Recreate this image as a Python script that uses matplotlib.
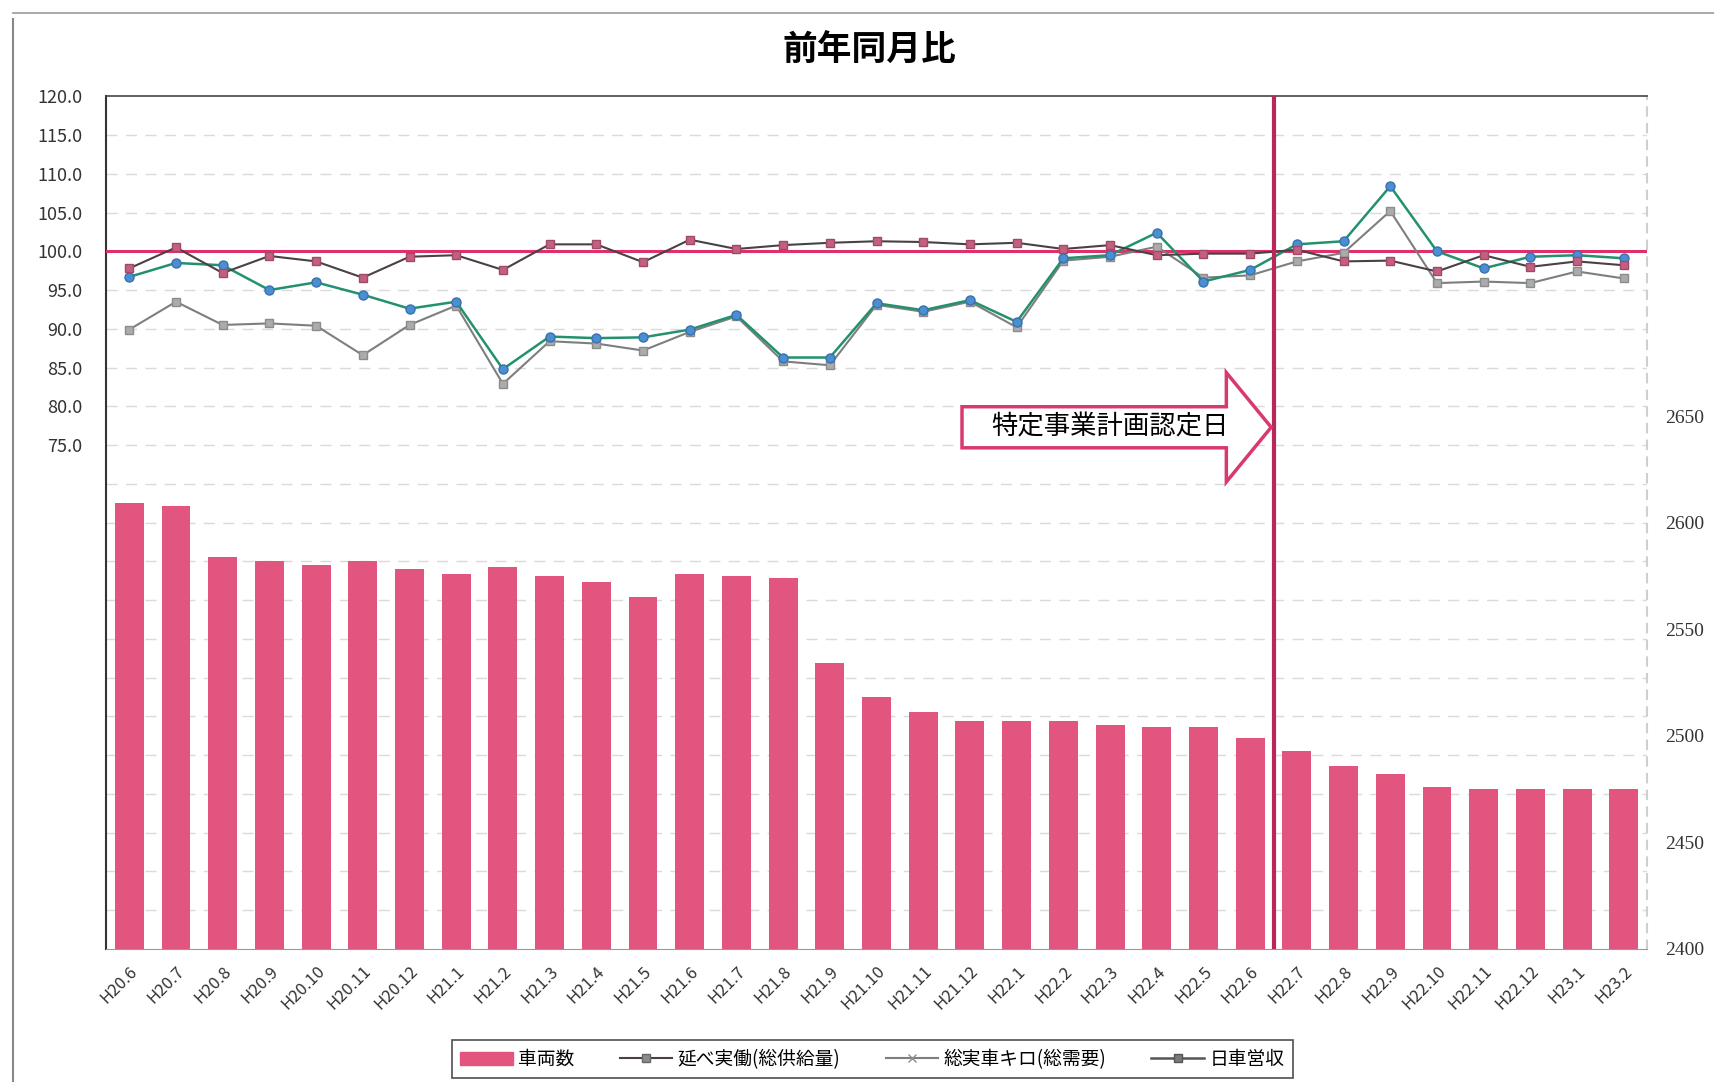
import matplotlib
import numpy as np

matplotlib.use("Agg")
import matplotlib.pyplot as plt
from matplotlib.lines import Line2D
from matplotlib.patches import FancyArrow, Patch

plt.rcParams["font.family"] = ["Noto Sans CJK JP", "DejaVu Sans"]

MONTHS = [
    "H20.6", "H20.7", "H20.8", "H20.9", "H20.10", "H20.11", "H20.12",
    "H21.1", "H21.2", "H21.3", "H21.4", "H21.5", "H21.6", "H21.7", "H21.8",
    "H21.9", "H21.10", "H21.11", "H21.12", "H22.1", "H22.2", "H22.3", "H22.4",
    "H22.5", "H22.6", "H22.7", "H22.8", "H22.9", "H22.10", "H22.11", "H22.12",
    "H23.1", "H23.2",
]
# 車両数 (right axis)
VEHICLES = [
    2609, 2608, 2584, 2582, 2580, 2582, 2578, 2576, 2579, 2575, 2572, 2565,
    2576, 2575, 2574, 2534, 2518, 2511, 2507, 2507, 2507, 2505, 2504, 2504,
    2499, 2493, 2486, 2482, 2476, 2475, 2475, 2475, 2475,
]
# 延べ実働(総供給量) 前年同月比
SUPPLY = [
    97.8, 100.5, 97.2, 99.4, 98.7, 96.6, 99.3, 99.5, 97.6, 100.9, 100.9, 98.6,
    101.5, 100.3, 100.8, 101.1, 101.3, 101.2, 100.9, 101.1, 100.3, 100.8, 99.5,
    99.7, 99.7, 100.2, 98.7, 98.8, 97.4, 99.5, 98.0, 98.7, 98.2,
]
# 総実車キロ(総需要) 前年同月比
DEMAND = [
    89.9, 93.5, 90.5, 90.7, 90.4, 86.6, 90.5, 93.0, 82.9, 88.4, 88.1, 87.2,
    89.6, 91.6, 85.8, 85.3, 93.1, 92.2, 93.5, 90.2, 98.8, 99.3, 100.6, 96.6,
    96.9, 98.7, 99.8, 105.2, 95.9, 96.1, 95.9, 97.4, 96.5,
]
# 日車営収 前年同月比
REVENUE = [
    96.7, 98.5, 98.2, 95.0, 96.0, 94.4, 92.6, 93.5, 84.8, 89.0, 88.8, 88.9,
    89.9, 91.8, 86.3, 86.3, 93.3, 92.4, 93.7, 90.9, 99.1, 99.5, 102.4, 96.1,
    97.6, 100.9, 101.3, 108.4, 100.0, 97.8, 99.3, 99.5, 99.1,
]
CERT_LABEL = "特定事業計画認定日"
CERT_AFTER = "H22.7"  # the marker line sits just before this month

BAR_COLOR = "#E2557F"
SUPPLY_COLOR = "#4A4046"
DEMAND_COLOR = "#7E7E7E"
REVENUE_COLOR = "#23916F"
RED = "#E0306A"

fig = plt.figure(figsize=(17.14, 10.82), dpi=100)
ax = fig.add_axes([0.0618, 0.123, 0.8992, 0.788])
ax2 = ax.twinx()

x = np.arange(len(MONTHS))

# bars on the bottom layer, right-hand scale
ax.bar(x, VEHICLES, width=0.62, color=BAR_COLOR, zorder=2)
ax.set_ylim(2400, 2800)
ax.set_xlim(-0.5, len(MONTHS) - 0.5)
ax.yaxis.tick_right()
ax.set_yticks(range(2400, 2651, 50))
ax.tick_params(axis="y", length=0, pad=13, labelsize=14, colors="#333333")
for lab in ax.get_yticklabels():
    lab.set_fontfamily("Liberation Serif")

ax.set_xticks(x)
ax.set_xticklabels(MONTHS, rotation=45, ha="right", rotation_mode="anchor", fontsize=12)
ax.tick_params(axis="x", length=0, pad=10, colors="#333333")

# left scale for the ratio lines
ax2.yaxis.tick_left()
ax2.set_ylim(10, 120)
ticks = np.arange(10, 121, 5)
ax2.set_yticks(ticks)
ax2.set_yticklabels([f"{t:.1f}" if t >= 75 else "" for t in ticks])
ax2.tick_params(axis="y", length=0, pad=17, labelsize=13, colors="#333333")

# dashed grid (left-axis ticks) drawn behind the bars
for v in ticks[1:-1]:
    ax.plot([0, 1], [v, v], transform=ax2.get_yaxis_transform(), color="#DADADA",
            lw=1.0, ls=(0, (8, 6)), zorder=1, scalex=False, scaley=False)

for sp in ax2.spines.values():
    sp.set_visible(False)
ax.spines["left"].set_color("#333333")
ax.spines["left"].set_linewidth(1.5)
ax.spines["top"].set_color("#444444")
ax.spines["top"].set_linewidth(1.2)
ax.spines["bottom"].set_color("#999999")
ax.spines["right"].set_color("#CFCFCF")
ax.spines["right"].set_linestyle((0, (4, 4)))
ax.spines["right"].set_linewidth(1.5)

ax2.axhline(100, color=RED, lw=2.2, zorder=2)
ax2.plot(x, DEMAND, color=DEMAND_COLOR, lw=1.5, marker="s", ms=6,
         mfc="#ABABAB", mec="#8C8C8C", zorder=3)
ax2.plot(x, REVENUE, color=REVENUE_COLOR, lw=1.8, marker="o", ms=6.5,
         mfc="#4A8FD0", mec="#3A70B0", zorder=4)
ax2.plot(x, SUPPLY, color=SUPPLY_COLOR, lw=1.5, marker="s", ms=6,
         mfc="#C4607F", mec="#9E4A68", zorder=5)

# certification date marker + arrow callout
cert_x = MONTHS.index(CERT_AFTER) - 0.5
ax2.axvline(cert_x, color="#B8285A", lw=3, zorder=6)
arrow = FancyArrow(17.83, 77.3, cert_x - 0.05 - 17.83, 0, width=5.3, head_width=14.1,
                   head_length=0.96, length_includes_head=True, fc="white",
                   ec="#D83A6C", lw=2.5, zorder=7)
ax2.add_patch(arrow)
ax2.text(21.0, 77.3, CERT_LABEL, ha="center", va="center", fontsize=19, zorder=8)

fig.text(0.507, 0.953, "前年同月比", ha="center", va="center", fontsize=25, fontweight="bold")

handles = [
    Patch(facecolor=BAR_COLOR, edgecolor=BAR_COLOR),
    Line2D([], [], color=SUPPLY_COLOR, lw=1.5, marker="s", ms=6, mfc="#8C8C8C", mec="#666666"),
    Line2D([], [], color=DEMAND_COLOR, lw=1.5, marker="x", ms=6, mec="#8C8C8C"),
    Line2D([], [], color="#555555", lw=1.8, marker="s", ms=6, mfc="#7A7A7A", mec="#555555"),
]
labels = ["車両数", "延べ実働(総供給量)", "総実車キロ(総需要)", "日車営収"]
leg = fig.legend(handles, labels, loc="center", bbox_to_anchor=(0.509, 0.021), ncol=4,
                 frameon=True, fancybox=False, edgecolor="#222222", fontsize=13.5,
                 handlelength=2.8, handletextpad=0.3, columnspacing=2.4, borderpad=0.45)
leg.get_frame().set_linewidth(1.2)

# outer chart frame (left and top edges visible in the scan)
fig.add_artist(Line2D([0.0076, 0.0076], [0.0, 0.982], transform=fig.transFigure,
                      color="#888888", lw=1.5))
fig.add_artist(Line2D([0.0076, 1.0], [0.988, 0.988], transform=fig.transFigure,
                      color="#999999", lw=1.2))

fig.savefig("out.png", dpi=100)
